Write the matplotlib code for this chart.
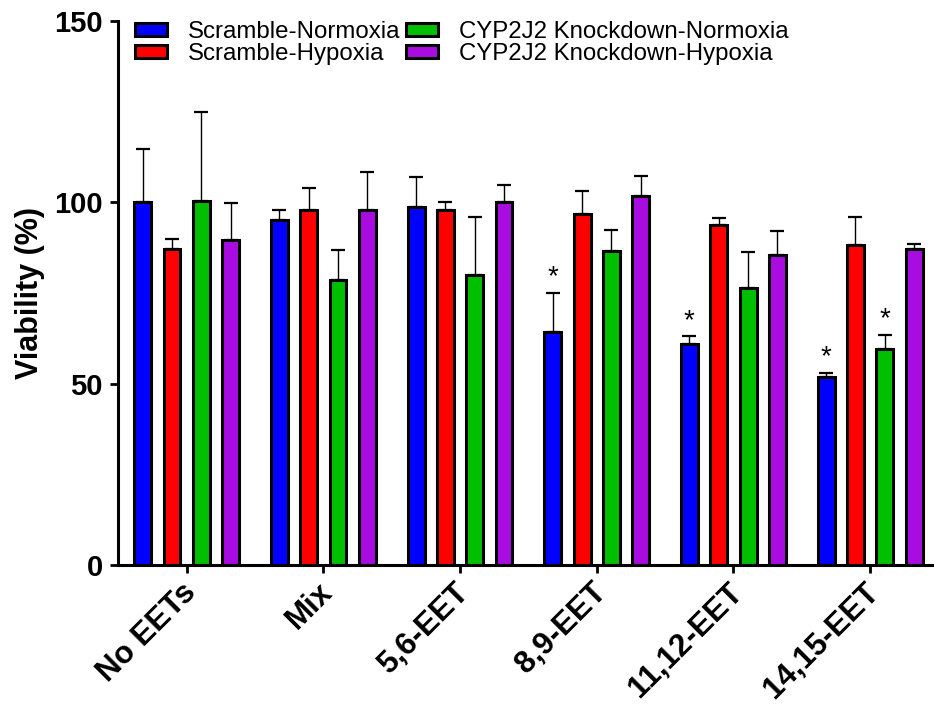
import matplotlib
matplotlib.use("Agg")
import matplotlib.pyplot as plt
import matplotlib.transforms as mtransforms
import numpy as np

plt.rcParams['font.family'] = ['Liberation Sans', 'DejaVu Sans']

groups = ["No EETs", "Mix", "5,6-EET", "8,9-EET", "11,12-EET", "14,15-EET"]
series = ["Scramble-Normoxia", "Scramble-Hypoxia",
          "CYP2J2 Knockdown-Normoxia", "CYP2J2 Knockdown-Hypoxia"]
colors = ["#0000FF", "#FF0000", "#00BE00", "#A80CE0"]

scr_norm = [100.0, 95.2, 98.6, 64.2, 60.9, 51.8]
scr_norm_err = [14.8, 2.7, 8.4, 10.9, 2.2, 1.2]
scr_hyp = [87.1, 98.0, 97.8, 96.9, 93.7, 88.2]
scr_hyp_err = [2.7, 5.9, 2.3, 6.2, 2.0, 7.7]
kd_norm = [100.3, 78.5, 79.9, 86.6, 76.5, 59.6]
kd_norm_err = [24.6, 8.4, 16.0, 5.8, 9.9, 3.9]
kd_hyp = [89.5, 98.0, 100.1, 101.7, 85.4, 87.0]
kd_hyp_err = [10.2, 10.5, 4.7, 5.6, 6.8, 1.5]

# (series index, group index) pairs marked as significant
significant = [(0, 3), (0, 4), (0, 5), (2, 5)]

means = [scr_norm, scr_hyp, kd_norm, kd_hyp]
errs = [scr_norm_err, scr_hyp_err, kd_norm_err, kd_hyp_err]

fig = plt.figure(figsize=(9.34, 7.07), dpi=100)
ax = fig.add_axes([118 / 934, 142 / 707, 1 - 118 / 934, 544 / 707])

x = np.arange(len(groups))
pitch = 0.2146
width = 0.124

for i, (m, e, c, lab) in enumerate(zip(means, errs, colors, series)):
    xs = x + (i - 1.5) * pitch
    ax.bar(xs, m, width=width, color=c, edgecolor="black", linewidth=2.2,
           label=lab, zorder=2)
    ax.errorbar(xs, m, yerr=[np.zeros(len(m)), e], fmt="none", ecolor="black",
                elinewidth=1.0, capsize=5, capthick=1.6, zorder=1)

for si, gi in significant:
    xs = x[gi] + (si - 1.5) * pitch
    top = means[si][gi] + errs[si][gi]
    ax.annotate("*", xy=(xs, top), xytext=(0, 5.9), textcoords="offset points",
                ha="center", va="baseline", fontsize=20)

ax.spines["top"].set_visible(False)
ax.spines["right"].set_visible(False)
ax.spines["left"].set_linewidth(2.2)
ax.spines["bottom"].set_linewidth(2.2)
ax.tick_params(axis="both", direction="out", length=6, width=2, pad=5)
ax.tick_params(axis="x", pad=9)

ax.set_xlim(-0.5025, 5.468)
ax.set_ylim(0, 150)
ax.set_yticks([0, 50, 100, 150])
ax.set_xticks(x)
ax.set_xticklabels(groups, rotation=45, ha="right", va="center",
                   rotation_mode="anchor", fontsize=22.5, fontweight="bold")
# nudge the slanted category labels slightly to the right
shift = mtransforms.ScaledTranslation(5 / 100, -2 / 100, fig.dpi_scale_trans)
for tick in ax.xaxis.get_major_ticks():
    tick.label1.set_transform(tick.label1.get_transform() + shift)
for t in ax.get_yticklabels():
    t.set_fontsize(21)
    t.set_fontweight("bold")

ax.set_ylabel("Viability (%)", fontsize=22, fontweight="bold")
ax.yaxis.set_label_coords(-0.090, 0.5)

fig.legend(loc="upper left", bbox_to_anchor=(135 / 934, 0.9705), ncol=2,
           frameon=False, fontsize=17.3, borderpad=0, borderaxespad=0,
           handlelength=1.33, handleheight=0.46, handletextpad=0.875,
           columnspacing=0.23, labelspacing=0.0)

fig.savefig("out.png", dpi=100)
